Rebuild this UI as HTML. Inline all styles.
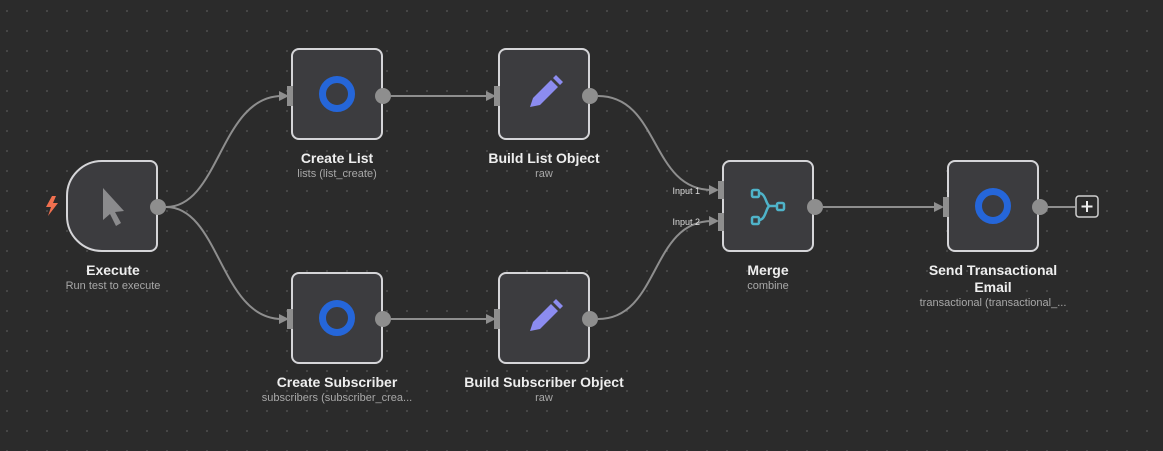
<!DOCTYPE html>
<html><head><style>
body{margin:0;width:1163px;height:451px;overflow:hidden;background:#2b2b2b;font-family:"Liberation Sans",sans-serif;
background-image:radial-gradient(circle,#4a4a4a 0.9px,transparent 1.2px);background-size:20px 20px;background-position:-3px 1px;position:relative}
.n{position:absolute;width:88px;height:88px;border:2px solid #d5d5d8;border-radius:8px;background:#3c3c3f;box-sizing:content-box}
.t{position:absolute;width:220px;text-align:center;color:#eee;font-size:14px;font-weight:bold;line-height:17px}
.s{display:block;font-weight:normal;font-size:11px;color:#a8a8a8;line-height:15px}
.ring{position:absolute;left:26px;top:26px;width:22px;height:22px;border:7px solid #2566d9;border-radius:50%}
</style></head><body>
<div class="n" style="left:66px;top:160px;border-radius:36px 8px 8px 36px"><svg width="88" height="88"><path d="M35 26 L35 58 L42 52 L48 64 L53 61 L47 50 L56 49Z" fill="#8b8b8d"/></svg></div>
<div class="n" style="left:291px;top:48px"><div class="ring"></div></div>
<div class="n" style="left:291px;top:272px"><div class="ring"></div></div>
<div class="n" style="left:498px;top:48px"><svg width="88" height="88"><path d="M30 57 L33 48 L51 30 L58 37 L40 55Z M53 28 L56 25 L63 32 L60 35Z" fill="#8c8cf0"/></svg></div>
<div class="n" style="left:498px;top:272px"><svg width="88" height="88"><path d="M30 57 L33 48 L51 30 L58 37 L40 55Z M53 28 L56 25 L63 32 L60 35Z" fill="#8c8cf0"/></svg></div>
<div class="n" style="left:722px;top:160px"><svg width="88" height="88" fill="none" stroke="#4fb3c9" stroke-width="2.5"><rect x="28" y="28" width="7" height="7" rx="1.5"/><rect x="28" y="55" width="7" height="7" rx="1.5"/><rect x="53" y="41" width="7" height="7" rx="1.5"/><path d="M35 31 C42 31,42 44,46 44 L53 44 M35 58 C42 58,42 44,46 44"/></svg></div>
<div class="n" style="left:947px;top:160px"><div class="ring"></div></div>
<svg width="1163" height="451" style="position:absolute;left:0;top:0;z-index:2" fill="none">
<g stroke="#8e8e8e" stroke-width="2">
<path d="M166 207 C220 207,220 96,282 96"/>
<path d="M166 207 C220 207,220 319,282 319"/>
<path d="M391 96 L489 96"/><path d="M391 319 L489 319"/>
<path d="M598 96 C660 96,650 190,712 190"/>
<path d="M598 319 C660 319,650 221,712 221"/>
<path d="M823 207 L938 207"/><path d="M1048 207 L1075 207"/>
</g>
<g fill="#8e8e8e">
<polygon points="289,96 279,91 279,101"/><polygon points="289,319 279,314 279,324"/>
<polygon points="496,96 486,91 486,101"/><polygon points="496,319 486,314 486,324"/>
<polygon points="719,190 709,185 709,195"/><polygon points="719,221 709,216 709,226"/>
<polygon points="944,207 934,202 934,212"/>
<rect x="287" y="86" width="6" height="20"/><rect x="287" y="309" width="6" height="20"/>
<rect x="494" y="86" width="6" height="20"/><rect x="494" y="309" width="6" height="20"/>
<rect x="718" y="181" width="6" height="18"/><rect x="718" y="213" width="6" height="18"/>
<rect x="943" y="197" width="6" height="20"/>
<circle cx="158" cy="207" r="8"/><circle cx="383" cy="96" r="8"/><circle cx="383" cy="319" r="8"/>
<circle cx="590" cy="96" r="8"/><circle cx="590" cy="319" r="8"/><circle cx="815" cy="207" r="8"/><circle cx="1040" cy="207" r="8"/>
</g>
<rect x="1076" y="196" width="22" height="21" rx="3" stroke="#d0d0d0" stroke-width="1.5" fill="#2b2b2b"/>
<path d="M1087 201v11M1081.5 206.5h11" stroke="#eee" stroke-width="2"/>
<text x="700" y="194" fill="#ddd" font-size="9" text-anchor="end" font-family="Liberation Sans">Input 1</text>
<text x="700" y="225" fill="#ddd" font-size="9" text-anchor="end" font-family="Liberation Sans">Input 2</text>
<path d="M52 196 L46 207 L51 207 L48 216 L58 203 L53 203 L56 196Z" fill="#f0704f"/>
</svg>
<div class="t" style="left:3px;top:262px">Execute<span class="s">Run test to execute</span></div>
<div class="t" style="left:227px;top:150px">Create List<span class="s">lists (list_create)</span></div>
<div class="t" style="left:434px;top:150px">Build List Object<span class="s">raw</span></div>
<div class="t" style="left:227px;top:374px">Create Subscriber<span class="s">subscribers (subscriber_crea...</span></div>
<div class="t" style="left:434px;top:374px">Build Subscriber Object<span class="s">raw</span></div>
<div class="t" style="left:658px;top:262px">Merge<span class="s">combine</span></div>
<div class="t" style="left:883px;top:262px">Send Transactional<br>Email<span class="s">transactional (transactional_...</span></div>
</body></html>
